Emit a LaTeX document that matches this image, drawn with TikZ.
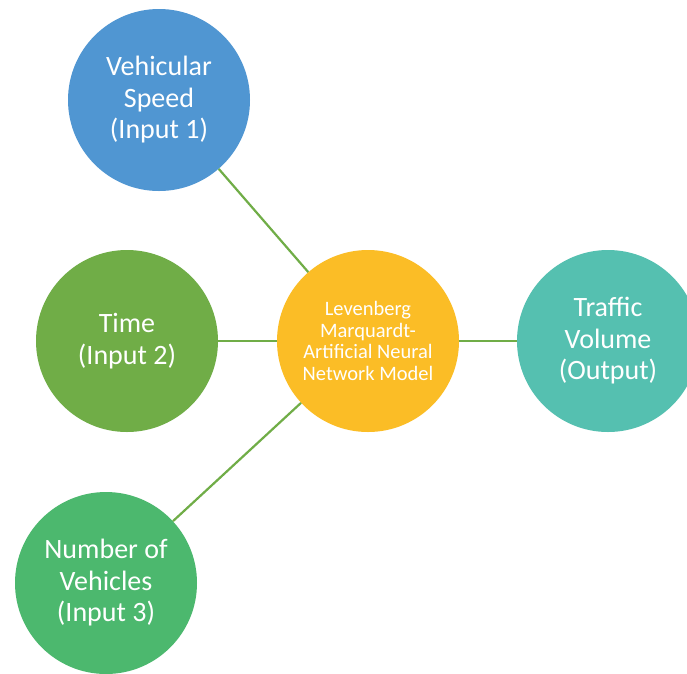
\documentclass[tikz,border=0pt]{standalone}
\usepackage{fontspec}
\setmainfont{Carlito}
\definecolor{speedblue}{RGB}{80,150,210}
\definecolor{timegreen}{RGB}{112,173,71}
\definecolor{numgreen}{RGB}{76,184,110}
\definecolor{modelyellow}{RGB}{251,189,38}
\definecolor{outteal}{RGB}{85,192,176}
\definecolor{linkgreen}{RGB}{112,173,71}
\tikzset{
  bubble/.style={circle, minimum size=182pt, inner sep=0pt, text=white,
    align=center, font=\fontsize{28}{31.5}\selectfont},
  link/.style={draw=linkgreen, line width=2.2pt}
}
\begin{document}
\begin{tikzpicture}[x=1pt,y=-1pt]

\clip (0,0) rectangle (687,673);
\fill[white] (0,0) rectangle (687,673);

\node[bubble, fill=speedblue] (speed) at (159,100) {Vehicular\\Speed\\(Input 1)};
\node[bubble, fill=timegreen] (time) at (127,341) {Time\\(Input 2)};
\node[bubble, fill=numgreen] (number) at (106,583) {Number of\\Vehicles\\(Input 3)};
\node[bubble, fill=modelyellow, font=\fontsize{20.5}{21.8}\selectfont] (model) at (368,341)
  {Levenberg\\Marquardt-\\Artificial Neural\\Network Model};
\node[bubble, fill=outteal] (volume) at (608,341) {Traffic\\Volume\\(Output)};

\draw[link] (speed) -- (model);
\draw[link] (time) -- (model);
\draw[link] (number) -- (model);
\draw[link] (model) -- (volume);

\end{tikzpicture}
\end{document}
